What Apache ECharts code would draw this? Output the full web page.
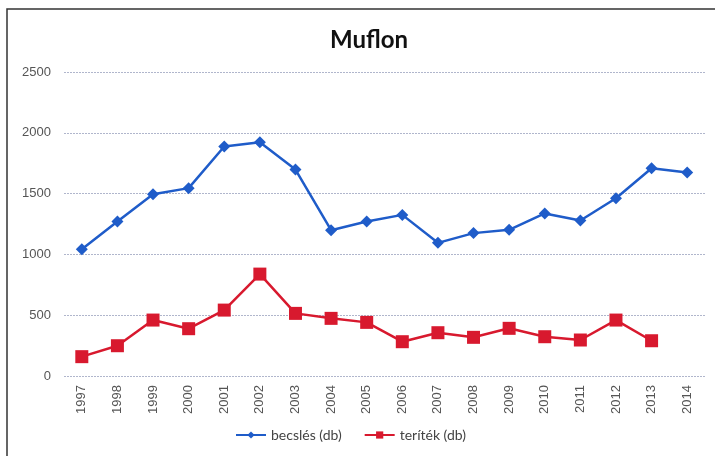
<!DOCTYPE html>
<html><head><meta charset="utf-8">
<script src="https://cdn.jsdelivr.net/npm/echarts@6/dist/echarts.min.js"></script>
<style>html,body{margin:0;padding:0;background:#fff}#c{width:715px;height:456px}</style>
</head><body><div id="c"></div>
<script>
var years = ['1997','1998','1999','2000','2001','2002','2003','2004','2005','2006','2007','2008','2009','2010','2011','2012','2013','2014'];
var becsles = [1043,1271,1495,1545,1887,1922,1698,1199,1271,1325,1095,1175,1202,1337,1279,1462,1709,1673];
var teritek = [159,249,460,389,542,838,515,474,441,282,356,318,392,323,296,460,290,null];
var yTicks = [0,500,1000,1500,2000,2500];

var chart = echarts.init(document.getElementById('c'));
chart.setOption({
  animation:false,
  backgroundColor:'#fff',
  graphic:[{type:'rect',shape:{x:7,y:9,width:720,height:460},style:{fill:'none',stroke:'#333',lineWidth:1.5},silent:true}],
  title:{text:'Muflon',left:364,top:23,textAlign:'center',textStyle:{fontFamily:'Lato',fontWeight:'bold',fontSize:24,color:'#111'}},
  grid:{left:64,right:10,top:72,bottom:80},
  legend:{bottom:9,left:230,itemWidth:30,itemHeight:9,itemGap:22,
    textStyle:{fontFamily:'Lato',fontSize:14,color:'#444'},
    data:['becslés (db)','teríték (db)']},
  xAxis:{type:'category',data:years,boundaryGap:true,
    axisLine:{show:false},axisTick:{show:false},
    axisLabel:{rotate:90,margin:9,fontFamily:'Liberation Sans',fontSize:13,color:'#555'}},
  yAxis:{type:'value',min:yTicks[0],max:yTicks[yTicks.length-1],interval:500,
    axisLine:{show:false},axisTick:{show:false},
    axisLabel:{margin:13,fontFamily:'Liberation Sans',fontSize:13,color:'#555',formatter:function(v){return String(v);}},
    splitLine:{lineStyle:{color:'#b0b6cc',type:[2,1],width:1}}},
  series:[
    {name:'becslés (db)',type:'line',data:becsles,symbol:'diamond',symbolSize:12,
     lineStyle:{color:'#1f5cc9',width:2.5},itemStyle:{color:'#1f5cc9'}},
    {name:'teríték (db)',type:'line',data:teritek,symbol:'rect',symbolSize:13,
     lineStyle:{color:'#d8192e',width:2.5},itemStyle:{color:'#d8192e'}}
  ]
});
</script></body></html>
